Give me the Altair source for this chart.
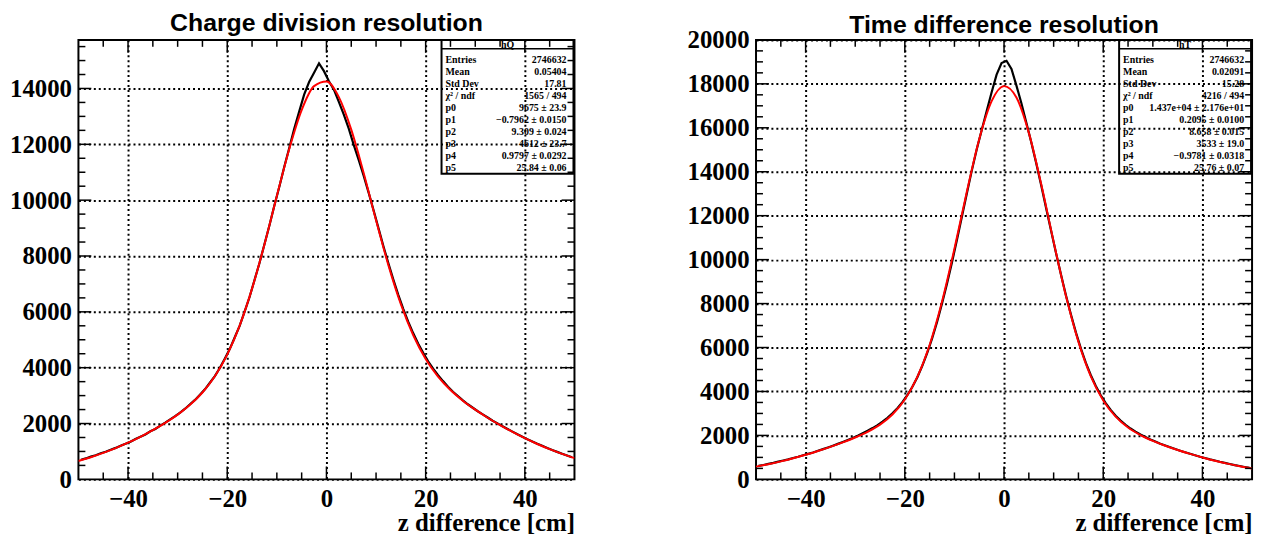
import altair as alt
import pandas as pd

# ---------------- data ----------------
bin_centers = [-49.5 + i for i in range(100)]  # 1 cm bins from -50 to 50

hq_counts = [705, 750, 815, 862, 935, 990, 1062, 1128, 1205, 1275,
             1350, 1448, 1530, 1610, 1722, 1805, 1925, 2030, 2150, 2262,
             2395, 2530, 2690, 2845, 3030, 3225, 3460, 3700, 3990, 4320,
             4665, 5080, 5500, 6010, 6530, 7140, 7750, 8420, 9090, 9810,
             10480, 11200, 11870, 12560, 13170, 13780, 14230, 14560, 14900, 14620,
             14260, 13960, 13520, 13060, 12560, 11980, 11440, 10880, 10270, 9640,
             8990, 8340, 7730, 7150, 6600, 6100, 5640, 5230, 4860, 4530,
             4230, 3970, 3730, 3520, 3320, 3140, 2985, 2830, 2690, 2565,
             2440, 2330, 2215, 2100, 2005, 1900, 1805, 1710, 1615, 1530,
             1440, 1360, 1275, 1200, 1125, 1050, 985, 918, 855, 790]

ht_counts = [615, 655, 705, 750, 805, 860, 912, 975, 1030, 1095,
             1160, 1225, 1300, 1375, 1450, 1530, 1615, 1700, 1790, 1885,
             1985, 2095, 2210, 2335, 2470, 2625, 2800, 3005, 3240, 3510,
             3830, 4200, 4640, 5150, 5740, 6410, 7160, 8000, 8900, 9870,
             10890, 11950, 13010, 14050, 15020, 15900, 16760, 17620, 18420, 18950,
             19050, 18680, 17920, 17120, 16230, 15330, 14380, 13370, 12330, 11300,
             10280, 9300, 8360, 7490, 6680, 5950, 5300, 4740, 4250, 3830,
             3470, 3160, 2900, 2675, 2485, 2315, 2170, 2040, 1925, 1815,
             1720, 1625, 1540, 1460, 1380, 1305, 1235, 1165, 1100, 1030,
             975, 912, 860, 800, 750, 700, 650, 610, 565, 525]

fit_x = [-50 + 2.5 * i for i in range(41)]
hq_fit = [659, 794, 947, 1120, 1313, 1525, 1760, 2021, 2319, 2671,
          3111, 3691, 4469, 5506, 6831, 8414, 10149, 11835, 13227, 14084,
          14249, 13691, 12527, 10972, 9277, 7665, 6274, 5162, 4315, 3683,
          3202, 2819, 2496, 2208, 1944, 1701, 1476, 1268, 1081, 912, 763]
ht_fit = [578, 692, 820, 964, 1122, 1294, 1481, 1683, 1906, 2166,
          2494, 2953, 3633, 4650, 6118, 8092, 10494, 13090, 15482, 17210,
          17896, 17377, 15769, 13428, 10809, 8329, 6256, 4687, 3591, 2855,
          2362, 2017, 1753, 1532, 1336, 1159, 997, 850, 718, 601, 498]

x_major = [-40, -20, 0, 20, 40]
x_minor = [-45, -35, -30, -25, -15, -10, -5, 5, 10, 15, 25, 30, 35, 45]
q_y_major = [0, 2000, 4000, 6000, 8000, 10000, 12000, 14000]
t_y_major = [0, 2000, 4000, 6000, 8000, 10000, 12000, 14000, 16000, 18000, 20000]
q_y_minor = [v for v in range(500, 15600, 500) if v % 2000 != 0]
t_y_minor = [v for v in range(500, 20000, 500) if v % 2000 != 0]

stat_labels = ["Entries", "Mean", "Std Dev", "χ² / ndf", "p0", "p1", "p2", "p3", "p4", "p5"]
hq_stats = ["2746632", "0.05404", "17.81", "1565 / 494", "9675 ± 23.9",
            "−0.7962 ± 0.0150", "9.309 ± 0.024", "4612 ± 23.7", "0.9797 ± 0.0292", "25.84 ± 0.06"]
ht_stats = ["2746632", "0.02091", "15.28", "4216 / 494", "1.437e+04 ± 2.176e+01",
            "0.2095 ± 0.0100", "8.658 ± 0.015", "3533 ± 19.0", "−0.9781 ± 0.0318", "25.76 ± 0.07"]

# ---------------- styling ----------------
W, H = 500, 443
SERIF = "Liberation Serif"
SANS = "Liberation Sans"
MAJ, MIN = 13, 7
GRID = dict(grid=True, gridColor="black", gridDash=[2, 3], gridWidth=2, gridOpacity=1)


def panel(title, name, counts, fit, ymax, y_major, y_minor, stats, title_y):
    xs = alt.Scale(domain=[-50, 50], nice=False, zero=False)
    ys = alt.Scale(domain=[0, ymax], nice=False, zero=False)
    hist_df = pd.DataFrame({"z": bin_centers, "n": counts})
    fit_df = pd.DataFrame({"z": fit_x, "n": fit})

    x_axis = alt.Axis(values=x_major, ticks=False, domain=False,
                      labelFont=SERIF, labelFontWeight="bold", labelFontSize=25,
                      labelColor="black", labelPadding=7, labelFlush=False,
                      title="z difference [cm]", titleFont=SERIF, titleFontWeight="bold",
                      titleFontSize=25, titleColor="black", titleAnchor="end",
                      titlePadding=0, **GRID)
    y_axis = alt.Axis(values=y_major, ticks=False, domain=False,
                      labelFont=SERIF, labelFontWeight="bold", labelFontSize=25,
                      labelColor="black", labelPadding=7, labelFlush=False,
                      labelOverlap=False, format="d", title="", **GRID)

    X = alt.X("z:Q", scale=xs, axis=x_axis)
    Y = alt.Y("n:Q", scale=ys, axis=y_axis)

    hist = alt.Chart(hist_df).mark_line(color="black", strokeWidth=2.2, clip=True).encode(x=X, y=Y)
    fitline = alt.Chart(fit_df).mark_line(color="#ff0000", strokeWidth=2,
                                          interpolate="monotone", clip=True).encode(x=X, y=Y)

    def xticks(vals, length):
        df = pd.DataFrame({"z": vals})
        bottom = alt.Chart(df).mark_rule(color="black", strokeWidth=1.5).encode(
            x=X, y=alt.value(H), y2=alt.value(H - length))
        top = alt.Chart(df).mark_rule(color="black", strokeWidth=1.5).encode(
            x=X, y=alt.value(0), y2=alt.value(length))
        return [bottom, top]

    def yticks(vals, length):
        df = pd.DataFrame({"n": vals})
        left = alt.Chart(df).mark_rule(color="black", strokeWidth=1.5).encode(
            y=Y, x=alt.value(0), x2=alt.value(length))
        right = alt.Chart(df).mark_rule(color="black", strokeWidth=1.5).encode(
            y=Y, x=alt.value(W), x2=alt.value(W - length))
        return [left, right]

    ticks = (xticks(x_major, MAJ) + xticks(x_minor, MIN)
             + yticks([v for v in y_major if 0 < v < ymax], MAJ) + yticks(y_minor, MIN))

    one = pd.DataFrame({"k": [0]})
    bx0, bx1, by1 = 366, 499, 135
    box = alt.Chart(one).mark_rect(filled=False, stroke="black", strokeWidth=2).encode(
        x=alt.value(bx0), x2=alt.value(bx1), y=alt.value(0), y2=alt.value(by1))
    sep = alt.Chart(one).mark_rule(color="black", strokeWidth=1.5).encode(
        x=alt.value(bx0), x2=alt.value(bx1), y=alt.value(9), y2=alt.value(9))
    head = alt.Chart(one).mark_text(font=SERIF, fontWeight="bold", fontSize=10,
                                    align="center", baseline="middle", color="black").encode(
        x=alt.value((bx0 + bx1) / 2), y=alt.value(5), text=alt.value(name))
    labs = alt.Chart(one).mark_text(font=SERIF, fontWeight="bold", fontSize=10, lineHeight=12.1,
                                    align="left", baseline="top", color="black").encode(
        x=alt.value(bx0 + 4), y=alt.value(15.5), text=alt.value(stat_labels))
    vals = alt.Chart(one).mark_text(font=SERIF, fontWeight="bold", fontSize=10, lineHeight=12.1,
                                    align="right", baseline="top", color="black").encode(
        x=alt.value(bx1 - 7), y=alt.value(15.5), text=alt.value(stats))
    ttl = alt.Chart(one).mark_text(font=SANS, fontWeight="bold", fontSize=25,
                                   align="center", baseline="alphabetic", color="black").encode(
        x=alt.value(W / 2), y=alt.value(title_y), text=alt.value(title))

    return alt.layer(hist, fitline, *ticks, box, sep, head, labs, vals, ttl).properties(
        width=W, height=H)


left = panel("Charge division resolution", "hQ", hq_counts, hq_fit, 15740,
             q_y_major, q_y_minor, hq_stats, -9)
right = panel("Time difference resolution", "hT", ht_counts, ht_fit, 20000,
              t_y_major, t_y_minor, ht_stats, -7)

chart = alt.hconcat(left, right, spacing=183, bounds="flush").properties(
    padding={"left": 0, "top": 0, "right": 5, "bottom": 5}
).configure(
    background="white"
).configure_view(
    stroke="black", strokeWidth=2
)

chart.save("out.html", embed_options={"renderer": "svg", "actions": False})
